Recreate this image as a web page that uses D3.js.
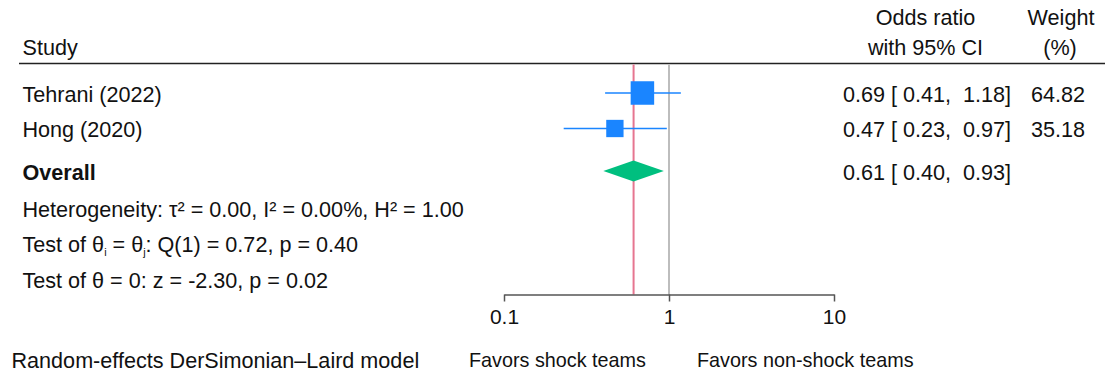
<!DOCTYPE html>
<html>
<head>
<meta charset="utf-8">
<script src="https://cdn.jsdelivr.net/npm/d3@7/dist/d3.min.js"></script>
<style>
  html, body { margin: 0; padding: 0; background: #fff; }
  svg { display: block; }
  text { font-family: "Liberation Sans", Arial, Helvetica, sans-serif; fill: #111; white-space: pre; }
</style>
</head>
<body>
<svg id="chart" width="1118" height="375"></svg>
<script>
// ---- data ----
const studies = ["Tehrani (2022)", "Hong (2020)"];
const oddsRatio = [0.69, 0.47];
const ciLow = [0.41, 0.23];
const ciHigh = [1.18, 0.97];
const weights = [64.82, 35.18];
const overallLabel = "Overall";
const overall = [0.61, 0.40, 0.93]; // estimate, low, high
const axisTicks = [0.1, 1, 10];
const tickLabels = ["0.1", "1", "10"];
const statLines = [
  "Heterogeneity: τ² = 0.00, I² = 0.00%, H² = 1.00",
  "Test of θ_i = θ_j: Q(1) = 0.72, p = 0.40",
  "Test of θ = 0: z = -2.30, p = 0.02"
];
const footLeft = "Random-effects DerSimonian–Laird model";
const favorLeft = "Favors shock teams";
const favorRight = "Favors non-shock teams";

// ---- layout ----
const FS = 21.6;
const FS_FAV = 19.8;
const svg = d3.select("#chart");
const x = d3.scaleLog().domain([0.1, 10]).range([504, 834]);
const y = d3.scaleLinear().domain([0, 1]).range([93, 128.5]);
const yOverall = 171;
const statY = d3.scaleLinear().domain([0, 1]).range([208.5, 243.7]);
const axisY = 294.5;
const headerLineY = 63.5;
const size = d3.scaleSqrt().domain([0, 64.82]).range([0, 23.5]);
const fmt = d3.format(".2f");
const pad = v => (v < 10 ? " " : "") + fmt(v);
const ciText = (e, l, h) => `${fmt(e)} [${pad(l)}, ${pad(h)}]`;

const colBlue = "#1a85ff";
const colGreen = "#00bf7f";
const colRed = "#e67590";
const colGray = "#bdbdbd";

// headers
svg.append("text").attr("x", 22.5).attr("y", 55).attr("font-size", FS).text("Study");
svg.append("text").attr("x", 925.5).attr("y", 25).attr("font-size", FS).attr("text-anchor", "middle").text("Odds ratio");
svg.append("text").attr("x", 925.5).attr("y", 55).attr("font-size", FS).attr("text-anchor", "middle").text("with 95% CI");
svg.append("text").attr("x", 1061).attr("y", 25).attr("font-size", FS).attr("text-anchor", "middle").text("Weight");
svg.append("text").attr("x", 1060).attr("y", 55).attr("font-size", FS).attr("text-anchor", "middle").text("(%)");
svg.append("line").attr("x1", 19).attr("x2", 1105).attr("y1", headerLineY).attr("y2", headerLineY)
  .attr("stroke", "#222").attr("stroke-width", 1.6);

// reference lines
svg.append("line").attr("x1", x(1)).attr("x2", x(1)).attr("y1", headerLineY + 1).attr("y2", axisY)
  .attr("stroke", colGray).attr("stroke-width", 2);
svg.append("line").attr("x1", x(overall[0])).attr("x2", x(overall[0])).attr("y1", headerLineY + 1).attr("y2", axisY)
  .attr("stroke", colRed).attr("stroke-width", 2);

// study rows
const rows = studies.map((s, i) => ({ s, i, e: oddsRatio[i], l: ciLow[i], h: ciHigh[i], w: weights[i] }));
const g = svg.append("g");
g.selectAll("line.ci").data(rows).join("line").attr("class", "ci")
  .attr("x1", d => x(d.l)).attr("x2", d => x(d.h))
  .attr("y1", d => y(d.i)).attr("y2", d => y(d.i))
  .attr("stroke", colBlue).attr("stroke-width", 1.6);
g.selectAll("rect").data(rows).join("rect")
  .attr("x", d => x(d.e) - size(d.w) / 2).attr("y", d => y(d.i) - size(d.w) / 2)
  .attr("width", d => size(d.w)).attr("height", d => size(d.w))
  .attr("fill", colBlue);
g.selectAll("text.name").data(rows).join("text").attr("class", "name")
  .attr("x", 22.5).attr("y", d => y(d.i) + 8.6).attr("font-size", FS).text(d => d.s);
g.selectAll("text.ci").data(rows).join("text").attr("class", "ci")
  .attr("x", 1011).attr("y", d => y(d.i) + 8.6).attr("font-size", FS).attr("text-anchor", "end")
  .text(d => ciText(d.e, d.l, d.h));
g.selectAll("text.w").data(rows).join("text").attr("class", "w")
  .attr("x", 1085).attr("y", d => y(d.i) + 8.6).attr("font-size", FS).attr("text-anchor", "end")
  .text(d => fmt(d.w));

// overall
const dh = 10.5;
svg.append("path")
  .attr("d", `M${x(overall[1])},${yOverall} L${x(overall[0])},${yOverall - dh} L${x(overall[2])},${yOverall} L${x(overall[0])},${yOverall + dh} Z`)
  .attr("fill", colGreen);
svg.append("text").attr("x", 22.5).attr("y", yOverall + 8.6).attr("font-size", FS).attr("font-weight", "bold").text(overallLabel);
svg.append("text").attr("x", 1011).attr("y", yOverall + 8.6).attr("font-size", FS).attr("text-anchor", "end")
  .text(ciText(overall[0], overall[1], overall[2]));

// stats lines (with subscripts)
statLines.forEach((line, i) => {
  const t = svg.append("text").attr("x", 22.5).attr("y", statY(i) + 8.6).attr("font-size", FS);
  const parts = line.split(/(_[a-z])/).filter(p => p.length);
  let shift = 0;
  parts.forEach(p => {
    if (p.startsWith("_")) {
      t.append("tspan").attr("font-size", FS * 0.5).attr("dy", 4 - shift).text(p.slice(1));
      shift = 4;
    } else {
      const ts = t.append("tspan").text(p);
      if (shift) { ts.attr("dy", -shift); shift = 0; }
    }
  });
});

// axis
const axis = d3.axisBottom(x).tickValues(axisTicks).tickFormat((d, i) => tickLabels[i]).tickSize(7).tickSizeOuter(0);
const ag = svg.append("g").attr("transform", `translate(0,${axisY})`).call(axis);
ag.select(".domain").attr("stroke", "#555").attr("stroke-width", 1.5);
ag.selectAll(".tick line").attr("stroke", "#555").attr("stroke-width", 1.5);
ag.selectAll(".tick text").attr("font-size", 21).attr("font-family", "Liberation Sans, Arial, sans-serif")
  .attr("fill", "#111").attr("dy", 0).attr("y", 29);

// footer
svg.append("text").attr("x", 11.5).attr("y", 368).attr("font-size", FS).text(footLeft);
svg.append("text").attr("x", 646).attr("y", 367).attr("font-size", FS_FAV).attr("text-anchor", "end").text(favorLeft);
svg.append("text").attr("x", 697).attr("y", 367).attr("font-size", FS_FAV).text(favorRight);
</script>
</body>
</html>
